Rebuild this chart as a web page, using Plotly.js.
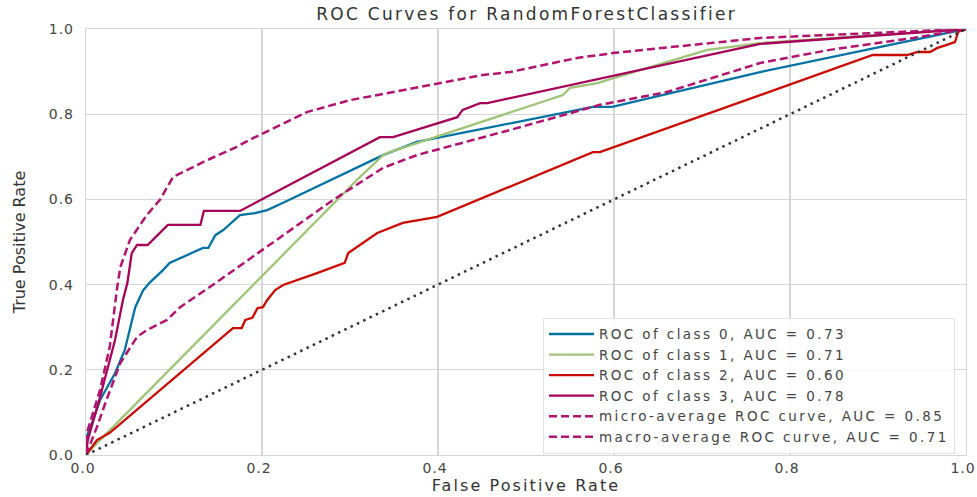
<!DOCTYPE html>
<html>
<head>
<meta charset="utf-8">
<script src="https://cdn.plot.ly/plotly-3.0.1.min.js"></script>
<style>
html,body{margin:0;padding:0;background:#fff;}
#chart{width:977px;height:497px;}
.gtitle{letter-spacing:2.3px;}
.xtitle{letter-spacing:2.1px;}
.xtick text, .ytick text{letter-spacing:1px;}
.legendtext{letter-spacing:2.4px;}
</style>
</head>
<body>
<div id="chart"></div>
<script>
// ROC data
const class0Fpr = [0, 0.001, 0.008, 0.016, 0.033, 0.044, 0.056, 0.065, 0.073, 0.0875, 0.095, 0.115, 0.133, 0.139, 0.147, 0.156, 0.175, 0.192, 0.206, 0.224, 0.3375, 0.376, 0.576, 0.598, 0.766, 1];
const class0Tpr = [0, 0.045, 0.082, 0.129, 0.192, 0.246, 0.347, 0.387, 0.406, 0.434, 0.451, 0.469, 0.486, 0.486, 0.516, 0.528, 0.563, 0.568, 0.575, 0.592, 0.704, 0.735, 0.817, 0.817, 0.899, 1];

const class1Fpr = [0, 0.005, 0.308, 0.3375, 0.345, 0.482, 0.542, 0.55, 0.581, 0.592, 0.706, 0.766, 1];
const class1Tpr = [0, 0.012, 0.646, 0.704, 0.711, 0.805, 0.845, 0.862, 0.873, 0.880, 0.951, 0.967, 1];

const class2Fpr = [0, 0.0125, 0.027, 0.167, 0.177, 0.181, 0.189, 0.195, 0.201, 0.206, 0.215, 0.224, 0.2625, 0.294, 0.298, 0.331, 0.360, 0.399, 0.576, 0.584, 0.894, 0.933, 0.945, 0.959, 0.967, 0.978, 0.9875, 0.991, 1];
const class2Tpr = [0, 0.035, 0.052, 0.298, 0.298, 0.317, 0.322, 0.345, 0.347, 0.364, 0.387, 0.399, 0.427, 0.451, 0.474, 0.521, 0.545, 0.559, 0.711, 0.711, 0.939, 0.939, 0.946, 0.946, 0.955, 0.962, 0.969, 0.993, 1];

const class3Fpr = [0, 0.002, 0.016, 0.033, 0.042, 0.047, 0.052, 0.058, 0.070, 0.093, 0.130, 0.134, 0.175, 0.334, 0.349, 0.422, 0.428, 0.448, 0.456, 0.766, 1];
const class3Tpr = [0, 0.035, 0.136, 0.27, 0.364, 0.404, 0.474, 0.493, 0.493, 0.540, 0.540, 0.573, 0.573, 0.746, 0.746, 0.793, 0.810, 0.826, 0.826, 0.965, 1];

const microFpr = [0, 0.001, 0.016, 0.027, 0.035, 0.039, 0.05, 0.069, 0.084, 0.099, 0.1375, 0.169, 0.19, 0.251, 0.3, 0.402, 0.451, 0.482, 0.558, 0.601, 0.766, 1];
const microTpr = [0, 0.052, 0.153, 0.254, 0.387, 0.441, 0.505, 0.563, 0.599, 0.653, 0.692, 0.721, 0.744, 0.805, 0.833, 0.873, 0.892, 0.899, 0.932, 0.944, 0.979, 1];

const macroFpr = [0, 0.0125, 0.022, 0.039, 0.058, 0.069, 0.092, 0.107, 0.144, 0.217, 0.281, 0.3375, 0.376, 0.482, 0.584, 0.66, 0.766, 0.845, 0.94, 1];
const macroTpr = [0, 0.066, 0.122, 0.216, 0.277, 0.293, 0.317, 0.347, 0.399, 0.505, 0.599, 0.674, 0.704, 0.763, 0.822, 0.852, 0.920, 0.951, 0.979, 1];

const diagonal = [0, 1];

const seriesNames = [
  'ROC of class 0, AUC = 0.73',
  'ROC of class 1, AUC = 0.71',
  'ROC of class 2, AUC = 0.60',
  'ROC of class 3, AUC = 0.78',
  'micro-average ROC curve, AUC = 0.85',
  'macro-average ROC curve, AUC = 0.71'
];
const tickVals = [0, 0.2, 0.4, 0.6, 0.8, 1.0];
const tickText = ['0.0', '0.2', '0.4', '0.6', '0.8', '1.0'];

const colors = ['#0272a2', '#9fc377', '#ca0b03', '#a50258', '#b0146e', '#b0146e'];
const FONT = 'DejaVu Sans, Liberation Sans, Arial, sans-serif';

function line(x, y, name, color, dash, width) {
  return {x: x, y: y, name: name, type: 'scatter', mode: 'lines',
    line: {color: color, width: width || 2.3, dash: dash || 'solid'}};
}

const traces = [
  line(class0Fpr, class0Tpr, seriesNames[0], colors[0]),
  line(class1Fpr, class1Tpr, seriesNames[1], colors[1]),
  line(class2Fpr, class2Tpr, seriesNames[2], colors[2]),
  line(class3Fpr, class3Tpr, seriesNames[3], colors[3]),
  line(microFpr, microTpr, seriesNames[4], colors[4], '8px,4px', 2.5),
  line(macroFpr, macroTpr, seriesNames[5], colors[5], '8px,4px', 2.5),
  Object.assign(line(diagonal, diagonal, 'diagonal', '#333333', '2.5px,4.5px', 2.5), {showlegend: false})
];

const axisCommon = {
  range: [0, 1], tickvals: tickVals, ticktext: tickText,
  showgrid: true, gridcolor: '#d6d6d6', gridwidth: 1.2,
  zeroline: false, showline: true, mirror: true, linecolor: '#d6d6d6', linewidth: 1.2,
  ticks: '', ticklabeloverflow: 'allow', tickfont: {family: FONT, size: 14, color: '#444'}
};

const layout = {
  width: 977, height: 497,
  margin: {l: 86, r: 11, t: 29, b: 42},
  paper_bgcolor: '#fff', plot_bgcolor: '#fff',
  font: {family: FONT, color: '#444'},
  title: {text: 'ROC Curves for RandomForestClassifier', font: {family: FONT, size: 17, color: '#333'},
    x: 0.539, xanchor: 'center', y: 0.972, yanchor: 'middle'},
  xaxis: Object.assign({}, axisCommon, {ticklabelshift: -3, title: {text: 'False Positive Rate', font: {family: FONT, size: 16, color: '#333'}, standoff: 4}}),
  yaxis: Object.assign({}, axisCommon, {ticklabelstandoff: 8, title: {text: 'True Positive Rate', font: {family: FONT, size: 16, color: '#333'}, standoff: 19}}),
  legend: {x: 0.9875, xanchor: 'right', y: 0.003, yanchor: 'bottom', itemwidth: 45,
    bgcolor: 'rgba(255,255,255,0.85)', bordercolor: '#e3e3e3', borderwidth: 1,
    font: {family: FONT, size: 13.5, color: '#444'}},
  showlegend: true
};

Plotly.newPlot('chart', traces, layout, {displayModeBar: false, staticPlot: true});
</script>
</body>
</html>
